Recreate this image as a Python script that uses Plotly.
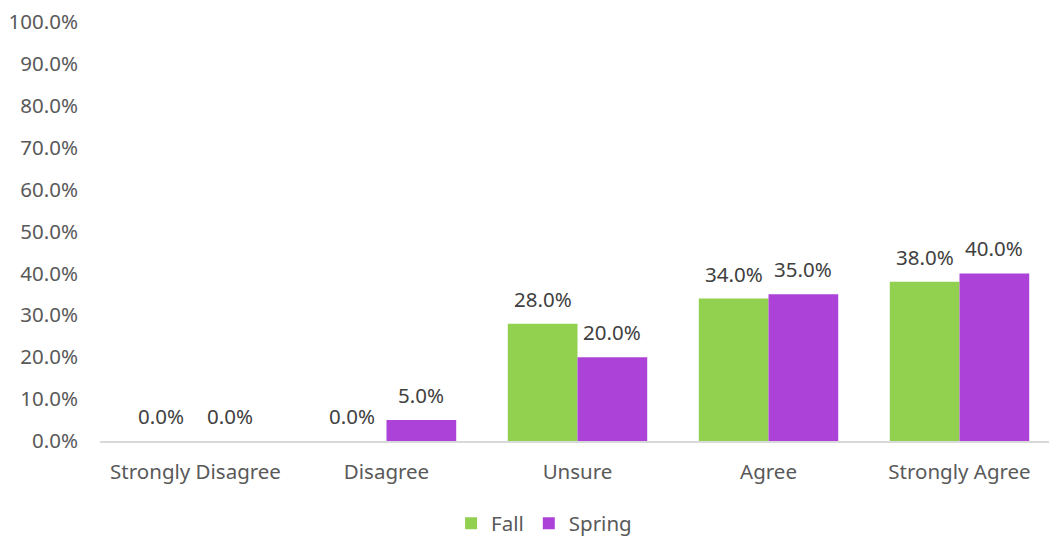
import plotly.graph_objects as go

categories = ["Strongly Disagree", "Disagree", "Unsure", "Agree", "Strongly Agree"]
fall = [0.0, 0.0, 0.28, 0.34, 0.38]
spring = [0.0, 0.05, 0.20, 0.35, 0.40]
series_names = ["Fall", "Spring"]
colors = ["#92D050", "#AD42D9"]

font_family = "Noto Sans"
txt_color = "#595959"
fs = 20.5
bargap = 0.27

fig = go.Figure()
for name, vals, col in zip(series_names, [fall, spring], colors):
    fig.add_trace(go.Bar(
        x=categories, y=vals, name=name, marker=dict(color=col, line=dict(width=0)),
    ))

# data labels above bars
half = (1 - bargap) / 4
for si, vals in enumerate([fall, spring]):
    off = -half if si == 0 else half
    for i, v in enumerate(vals):
        fig.add_annotation(x=i + off, y=v, text=f"{v*100:.1f}%", showarrow=False,
                           yanchor="bottom", xanchor="center", yshift=9,
                           font=dict(family=font_family, size=fs, color="#404040"))

fig.update_layout(
    width=1057, height=536,
    barmode="group", bargap=bargap, bargroupgap=0,
    plot_bgcolor="white", paper_bgcolor="white",
    margin=dict(l=92, r=10, t=14, b=103, autoexpand=False),
    font=dict(family=font_family, size=fs, color=txt_color),
    showlegend=True,
    legend=dict(orientation="h", x=0.465, xanchor="center", y=-0.197, yanchor="middle",
                font=dict(family=font_family, size=fs, color=txt_color),
                itemwidth=30, traceorder="normal"),
)
fig.update_yaxes(range=[0, 1], tickformat=".1%", dtick=0.1, showgrid=False,
                 zeroline=False, showline=False, ticks="", ticklabelstandoff=21,
                 ticklabeloverflow="allow",
                 tickfont=dict(family=font_family, size=fs, color=txt_color))
fig.update_xaxes(showline=True, linecolor="#D9D9D9", linewidth=1.5, ticks="",
                 showgrid=False, tickfont=dict(family=font_family, size=fs, color=txt_color),
                 ticklabelstandoff=12, ticklabeloverflow="allow")

fig.write_html("out.html")
